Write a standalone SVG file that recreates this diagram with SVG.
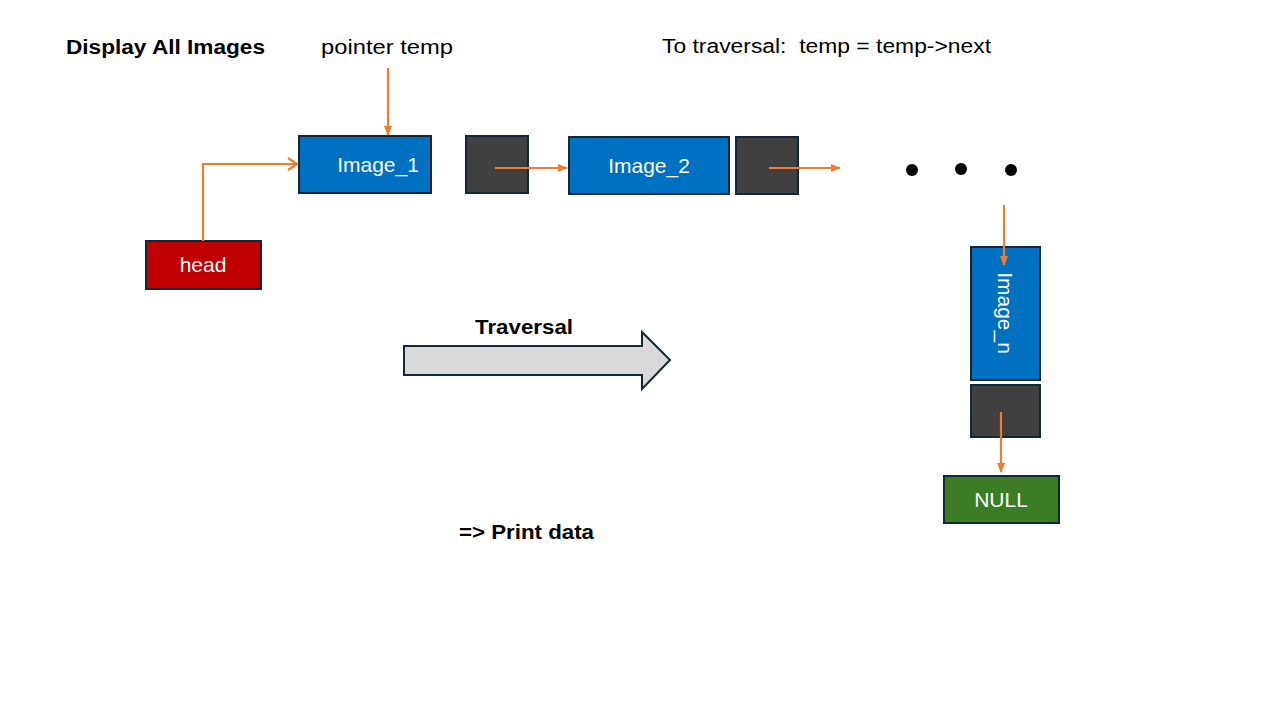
<svg xmlns="http://www.w3.org/2000/svg" width="1280" height="720" viewBox="0 0 1280 720">
<style>
.box{stroke:#13263b;stroke-width:2}
.blue{fill:#0070c0}
.dark{fill:#404040}
.lbl{font-family:"Liberation Sans",Arial,sans-serif;font-size:21px;fill:#ffffff;text-anchor:middle}
.t{font-family:"Liberation Sans",Arial,sans-serif;font-size:20px;fill:#000}
.b{font-weight:bold}
.con{stroke:#ed7d31;stroke-width:2.2;fill:none}
</style>
<defs>
<marker id="tri" markerWidth="10" markerHeight="8" refX="9" refY="4" orient="auto" markerUnits="userSpaceOnUse">
<path d="M0,0 L10,4 L0,8 Z" fill="#ed7d31"/>
</marker>
<marker id="open" markerWidth="12" markerHeight="14" refX="10" refY="7" orient="auto" markerUnits="userSpaceOnUse">
<path d="M1,1 L10,7 L1,13" fill="none" stroke="#ed7d31" stroke-width="2.2"/>
</marker>
</defs>
<rect width="1280" height="720" fill="#ffffff"/>
<text class="t b" x="66" y="54" textLength="199" lengthAdjust="spacingAndGlyphs">Display All Images</text>
<text class="t" x="321" y="54" textLength="132" lengthAdjust="spacingAndGlyphs">pointer temp</text>
<text class="t" x="662" y="53" xml:space="preserve" textLength="329" lengthAdjust="spacingAndGlyphs">To traversal:  temp = temp-&gt;next</text>
<text class="t b" x="475" y="334" textLength="98" lengthAdjust="spacingAndGlyphs">Traversal</text>
<text class="t b" x="459" y="539" textLength="135" lengthAdjust="spacingAndGlyphs">=&gt; Print data</text>
<g id="traversal-arrow">
<path d="M404,346 L642,346 L642,332 L670,360 L642,389 L642,375 L404,375 Z" fill="#d9d9d9" stroke="#13263b" stroke-width="2"/>
</g>
<g id="node-image1">
<rect class="box blue" x="299" y="136" width="132" height="57"/>
<text class="lbl" x="378" y="172">Image_1</text>
<rect class="box dark" x="466" y="136" width="62" height="57"/>
</g>
<g id="node-image2">
<rect class="box blue" x="569" y="137" width="160" height="57"/>
<text class="lbl" x="649" y="173">Image_2</text>
<rect class="box dark" x="736" y="137" width="62" height="57"/>
</g>
<g id="node-head">
<rect class="box" x="146" y="241" width="115" height="48" fill="#c00000"/>
<text class="lbl" x="203" y="272">head</text>
</g>
<g id="ellipsis">
<circle cx="912" cy="170" r="6" fill="#000"/>
<circle cx="961" cy="169" r="6" fill="#000"/>
<circle cx="1011" cy="170" r="6" fill="#000"/>
</g>
<g id="node-imagen">
<rect class="box blue" x="971" y="247" width="69" height="133"/>
<text class="lbl" transform="translate(998,313) rotate(90)">Image_n</text>
<rect class="box dark" x="971" y="385" width="69" height="52"/>
</g>
<g id="node-null">
<rect class="box" x="944" y="476" width="115" height="47" fill="#3a7d22"/>
<text class="lbl" x="1001" y="507">NULL</text>
</g>
<g id="connectors">
<path class="con" d="M203,241 L203,164 L297,164" marker-end="url(#open)"/>
<path class="con" d="M388,68 L388,135" marker-end="url(#tri)"/>
<path class="con" d="M495,168 L567,168" marker-end="url(#tri)"/>
<path class="con" d="M769,168 L840,168" marker-end="url(#tri)"/>
<path class="con" d="M1004,205 L1004,265" marker-end="url(#tri)"/>
<path class="con" d="M1001,412 L1001,472" marker-end="url(#tri)"/>
</g>
</svg>
